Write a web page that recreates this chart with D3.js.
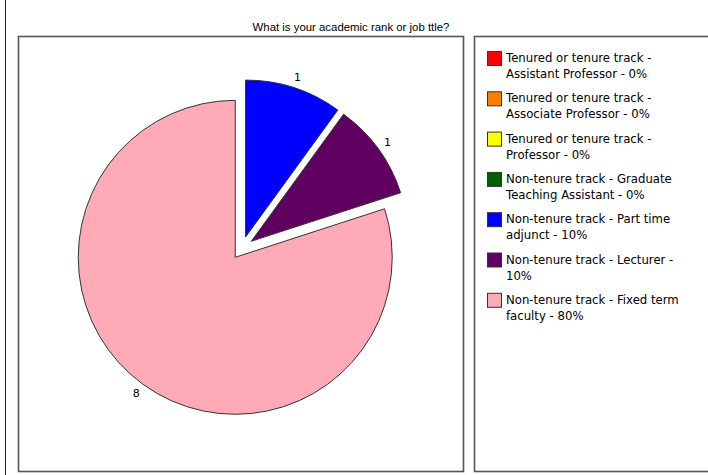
<!DOCTYPE html>
<html>
<head>
<meta charset="utf-8">
<script src="https://cdn.jsdelivr.net/npm/d3@7"></script>
<style>
  html, body { margin: 0; padding: 0; background: #fff; }
  svg { display: block; }
</style>
</head>
<body>
<svg id="chart" width="708" height="475"></svg>
<script>
// Survey responses: academic rank / job title
const title = "What is your academic rank or job ttle?";
const categories = [
  "Tenured or tenure track - Assistant Professor",
  "Tenured or tenure track - Associate Professor",
  "Tenured or tenure track - Professor",
  "Non-tenure track - Graduate Teaching Assistant",
  "Non-tenure track - Part time adjunct",
  "Non-tenure track - Lecturer",
  "Non-tenure track - Fixed term faculty"
];
const counts = [0, 0, 0, 0, 1, 1, 8];
const colors = ["#ff0000", "#ff8000", "#ffff00", "#006000", "#0000ff", "#600060", "#ffaab6"];

const svg = d3.select("#chart");
const W = 708, H = 475;
const legendFont = "'DejaVu Sans', Verdana, sans-serif";

// thin rule down the left edge
svg.append("line").attr("x1", 5.5).attr("x2", 5.5).attr("y1", 0).attr("y2", H)
  .attr("stroke", "#222").attr("stroke-width", 1);

// title
svg.append("text").attr("x", 351).attr("y", 31).attr("text-anchor", "middle")
  .attr("font-family", "'Liberation Sans', Arial, sans-serif")
  .attr("font-size", 11.4).attr("fill", "#000").text(title);

// panel frames
const plotBox = { x: 18.5, y: 36.5, w: 445, h: 435 };
const legendBox = { x: 474.5, y: 36.5, w: 260, h: 435 };
[plotBox, legendBox].forEach(b => {
  svg.append("rect").attr("x", b.x).attr("y", b.y).attr("width", b.w).attr("height", b.h)
    .attr("fill", "#fff").attr("stroke", "#555").attr("stroke-width", 1.6);
});

// pie
const total = d3.sum(counts);
const cx = 242, cy = 248, R = 157, explode = 11.5, labelR = 180;
const pie = d3.pie().sort(null).value(d => d.v).startAngle(0).endAngle(2 * Math.PI);
const arcs = pie(counts.map((v, i) => ({ v, i }))).filter(a => a.data.v > 0);
const arc = d3.arc().innerRadius(0).outerRadius(R);

const g = svg.append("g").attr("transform", `translate(${cx},${cy})`);
arcs.forEach(a => {
  const mid = (a.startAngle + a.endAngle) / 2;
  const dx = explode * Math.sin(mid), dy = -explode * Math.cos(mid);
  g.append("path").attr("d", arc(a)).attr("transform", `translate(${dx},${dy})`)
    .attr("fill", colors[a.data.i]).attr("stroke", "#333").attr("stroke-width", 1);
  g.append("text")
    .attr("x", labelR * Math.sin(mid)).attr("y", -labelR * Math.cos(mid))
    .attr("text-anchor", "middle").attr("dy", "0.35em")
    .attr("font-family", legendFont)
    .attr("font-size", 11).attr("fill", "#000").text(a.data.v);
});

// legend
const lg = svg.append("g");
const maxW = 183, lineH = 16, itemH = 40.3;
categories.forEach((name, i) => {
  const y0 = 51 + i * itemH;
  lg.append("rect").attr("x", 487.5).attr("y", y0 + 0.5).attr("width", 14).attr("height", 14)
    .attr("fill", colors[i]).attr("stroke", "#333").attr("stroke-width", 1);
  const pct = Math.round(counts[i] / total * 100);
  const words = (name + " - " + pct + "%").split(" ");
  const t = lg.append("text").attr("font-family", legendFont)
    .attr("font-size", 11.7).attr("fill", "#000");
  let line = [], lineNo = 0;
  let ts = t.append("tspan").attr("x", 506).attr("y", y0 + 11);
  words.forEach(w => {
    line.push(w);
    ts.text(line.join(" "));
    if (ts.node().getComputedTextLength() > maxW && line.length > 1) {
      line.pop();
      ts.text(line.join(" "));
      line = [w];
      lineNo++;
      ts = t.append("tspan").attr("x", 506).attr("y", y0 + 11 + lineNo * lineH).text(w);
    }
  });
});
</script>
</body>
</html>
